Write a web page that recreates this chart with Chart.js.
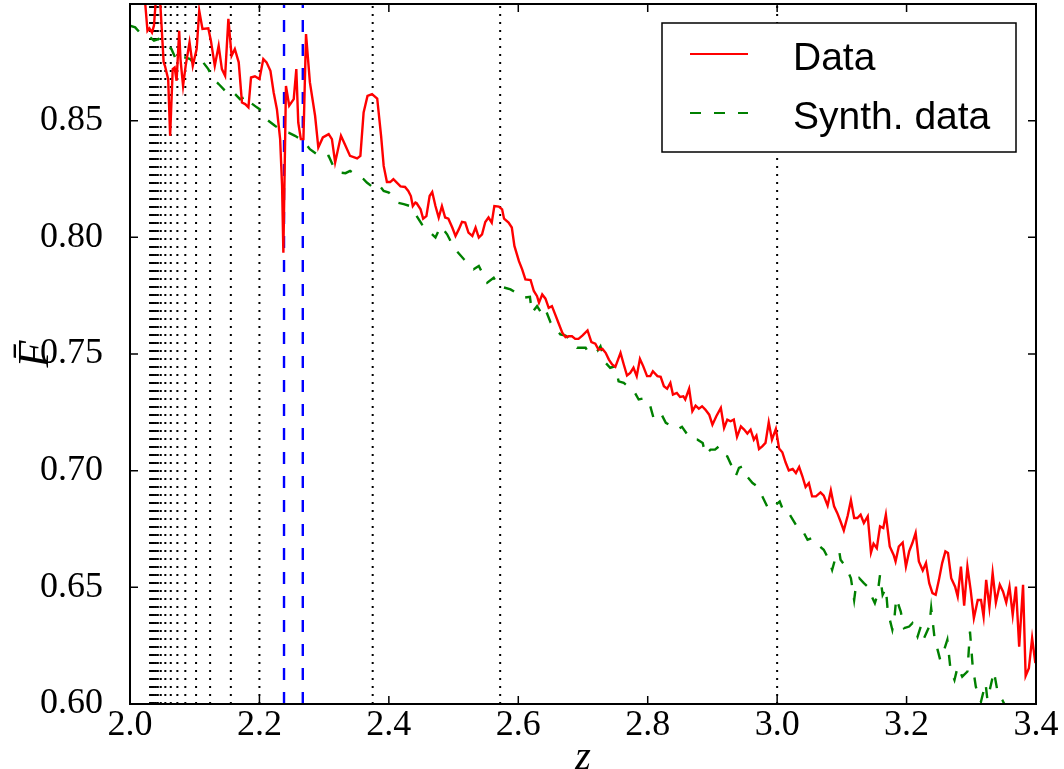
<!DOCTYPE html>
<html>
<head>
<meta charset="utf-8">
<script src="https://cdn.jsdelivr.net/npm/chart.js@4.4.0/dist/chart.umd.min.js"></script>
<style>
  html, body { margin: 0; padding: 0; background: #fff; }
</style>
</head>
<body>
<canvas id="fluxChart" width="1064" height="769"></canvas>
<script>
// Mean flux vs redshift (measured)
const zData = [2.020, 2.023, 2.027, 2.030, 2.034, 2.037, 2.040, 2.045, 2.047, 2.052, 2.054, 2.059, 2.062, 2.066, 2.069, 2.072, 2.076, 2.078, 2.082, 2.086,
  2.092, 2.097, 2.103, 2.107, 2.112, 2.121, 2.125, 2.131, 2.137, 2.142, 2.147, 2.152, 2.157, 2.162, 2.168, 2.173, 2.178, 2.183, 2.187, 2.193,
  2.200, 2.206, 2.211, 2.217, 2.222, 2.227, 2.232, 2.235, 2.237, 2.241, 2.246, 2.253, 2.257, 2.260, 2.264, 2.268, 2.272, 2.278, 2.286, 2.291,
  2.298, 2.307, 2.312, 2.317, 2.326, 2.333, 2.340, 2.351, 2.356, 2.361, 2.367, 2.374, 2.382, 2.388, 2.392, 2.397, 2.402, 2.407, 2.418, 2.425,
  2.430, 2.434, 2.437, 2.441, 2.443, 2.449, 2.453, 2.458, 2.463, 2.467, 2.472, 2.477, 2.482, 2.487, 2.492, 2.498, 2.503, 2.508, 2.513, 2.518,
  2.523, 2.529, 2.534, 2.539, 2.544, 2.549, 2.554, 2.559, 2.563, 2.570, 2.575, 2.578, 2.585, 2.590, 2.594, 2.601, 2.606, 2.611, 2.619, 2.624,
  2.629, 2.632, 2.637, 2.642, 2.647, 2.652, 2.657, 2.662, 2.668, 2.673, 2.678, 2.683, 2.688, 2.693, 2.699, 2.707, 2.713, 2.719, 2.724, 2.730,
  2.735, 2.740, 2.745, 2.750, 2.758, 2.763, 2.768, 2.773, 2.778, 2.783, 2.788, 2.793, 2.799, 2.804, 2.808, 2.815, 2.820, 2.825, 2.830, 2.835,
  2.839, 2.845, 2.850, 2.855, 2.858, 2.864, 2.869, 2.874, 2.879, 2.884, 2.889, 2.895, 2.900, 2.906, 2.913, 2.918, 2.923, 2.928, 2.933, 2.938,
  2.944, 2.949, 2.954, 2.959, 2.964, 2.968, 2.972, 2.977, 2.982, 2.987, 2.992, 2.998, 3.003, 3.008, 3.013, 3.018, 3.024, 3.029, 3.034, 3.039,
  3.044, 3.049, 3.054, 3.060, 3.067, 3.072, 3.078, 3.083, 3.088, 3.093, 3.098, 3.103, 3.109, 3.114, 3.119, 3.124, 3.129, 3.134, 3.140, 3.145,
  3.149, 3.154, 3.159, 3.164, 3.168, 3.174, 3.180, 3.183, 3.188, 3.194, 3.199, 3.204, 3.209, 3.214, 3.219, 3.225, 3.230, 3.235, 3.240, 3.245,
  3.250, 3.255, 3.260, 3.264, 3.269, 3.275, 3.279, 3.284, 3.289, 3.294, 3.299, 3.304, 3.310, 3.315, 3.319, 3.323, 3.328, 3.333, 3.338, 3.344,
  3.349, 3.354, 3.359, 3.364, 3.369, 3.374, 3.380, 3.384, 3.389, 3.394, 3.399];
const fData = [0.910, 0.902, 0.8885, 0.8896, 0.8878, 0.8907, 0.902, 0.904, 0.8993, 0.8750, 0.8735, 0.8678, 0.8435, 0.8721, 0.8728, 0.8671, 0.8885, 0.8764, 0.8649, 0.8735,
  0.8836, 0.8735, 0.8807, 0.8971, 0.8893, 0.8896, 0.8843, 0.8735, 0.8821, 0.8721, 0.8692, 0.8936, 0.8778, 0.8807, 0.8750, 0.8578, 0.8571, 0.8557, 0.8685, 0.8690,
  0.8678, 0.8764, 0.8750, 0.8714, 0.8621, 0.8549, 0.8421, 0.8220, 0.7934, 0.8649, 0.8564, 0.8592, 0.8721, 0.8492, 0.8421, 0.8421, 0.8871, 0.8664, 0.8521, 0.8385,
  0.8428, 0.8442, 0.8421, 0.8321, 0.8435, 0.8392, 0.8349, 0.8338, 0.8349, 0.8535, 0.8606, 0.8614, 0.8595, 0.8435, 0.8306, 0.8237, 0.8237, 0.8249, 0.8218, 0.8216,
  0.8199, 0.8177, 0.8134, 0.8149, 0.8146, 0.8120, 0.8080, 0.8091, 0.8177, 0.8194, 0.8134, 0.8085, 0.8134, 0.8085, 0.8080, 0.8042, 0.8006, 0.8034, 0.8066, 0.8063,
  0.8020, 0.8006, 0.8042, 0.7999, 0.8013, 0.8066, 0.8085, 0.8063, 0.8134, 0.8132, 0.8120, 0.8080, 0.8063, 0.8042, 0.7963, 0.7898, 0.7863, 0.7820, 0.7817, 0.7770,
  0.7748, 0.7720, 0.7755, 0.7737, 0.7698, 0.7705, 0.7670, 0.7634, 0.7591, 0.7572, 0.7576, 0.7576, 0.7565, 0.7565, 0.7579, 0.7601, 0.7551, 0.7544, 0.7519, 0.7522,
  0.7505, 0.7476, 0.7455, 0.7445, 0.7505, 0.7455, 0.7408, 0.7419, 0.7441, 0.7405, 0.7479, 0.7448, 0.7405, 0.7405, 0.7426, 0.7405, 0.7402, 0.7362, 0.7351, 0.7376,
  0.7326, 0.7333, 0.7316, 0.7319, 0.7305, 0.7351, 0.7255, 0.7279, 0.7266, 0.7276, 0.7262, 0.7240, 0.7197, 0.7233, 0.7269, 0.7183, 0.7219, 0.7212, 0.7219, 0.7145,
  0.7190, 0.7176, 0.7159, 0.7176, 0.7133, 0.7150, 0.7093, 0.7104, 0.7119, 0.7207, 0.7133, 0.7179, 0.7095, 0.7079, 0.7036, 0.7001, 0.7007, 0.6990, 0.7016, 0.6976,
  0.6930, 0.6947, 0.6890, 0.6890, 0.6907, 0.6893, 0.6850, 0.6915, 0.6847, 0.6818, 0.6782, 0.6744, 0.6807, 0.6873, 0.6797, 0.6797, 0.6811, 0.6776, 0.6804, 0.6649,
  0.6687, 0.6668, 0.6761, 0.6754, 0.6811, 0.6675, 0.6639, 0.6611, 0.6675, 0.6692, 0.6589, 0.6654, 0.6690, 0.6733, 0.6611, 0.6572, 0.6604, 0.6518, 0.6475, 0.6468,
  0.6532, 0.6604, 0.6654, 0.6647, 0.6539, 0.6503, 0.6461, 0.6589, 0.6421, 0.6589, 0.6489, 0.6368, 0.6446, 0.6446, 0.6375, 0.6532, 0.6415, 0.6561, 0.6435, 0.6511,
  0.6482, 0.6435, 0.6503, 0.6382, 0.6503, 0.6246, 0.6511, 0.6120, 0.6153, 0.6282, 0.6175];

// Synthetic data
const zSynth = [2.000, 2.008, 2.015, 2.023, 2.031, 2.037, 2.044, 2.052, 2.059, 2.064, 2.072, 2.077, 2.085, 2.093, 2.101, 2.113, 2.121, 2.129, 2.137, 2.147,
  2.155, 2.170, 2.181, 2.186, 2.196, 2.204, 2.211, 2.224, 2.235, 2.245, 2.255, 2.268, 2.278, 2.289, 2.296, 2.307, 2.314, 2.322, 2.333, 2.340,
  2.351, 2.361, 2.366, 2.376, 2.384, 2.392, 2.400, 2.413, 2.423, 2.433, 2.443, 2.451, 2.464, 2.472, 2.480, 2.490, 2.498, 2.505, 2.516, 2.531,
  2.539, 2.547, 2.552, 2.562, 2.570, 2.588, 2.596, 2.608, 2.618, 2.621, 2.629, 2.637, 2.642, 2.650, 2.657, 2.665, 2.673, 2.683, 2.691, 2.704,
  2.709, 2.722, 2.727, 2.735, 2.742, 2.750, 2.755, 2.763, 2.779, 2.786, 2.797, 2.804, 2.809, 2.820, 2.828, 2.846, 2.853, 2.866, 2.877, 2.885,
  2.889, 2.897, 2.904, 2.910, 2.917, 2.923, 2.931, 2.936, 2.941, 2.946, 2.951, 2.962, 2.969, 2.977, 2.987, 2.995, 3.004, 3.011, 3.018, 3.029,
  3.036, 3.047, 3.054, 3.060, 3.072, 3.080, 3.085, 3.090, 3.096, 3.098, 3.106, 3.114, 3.119, 3.121, 3.127, 3.134, 3.140, 3.145, 3.151, 3.155,
  3.159, 3.163, 3.168, 3.171, 3.178, 3.181, 3.184, 3.191, 3.196, 3.204, 3.209, 3.217, 3.222, 3.227, 3.235, 3.238, 3.243, 3.248, 3.252, 3.258,
  3.263, 3.268, 3.274, 3.279, 3.286, 3.294, 3.298, 3.302, 3.307, 3.315, 3.322, 3.325, 3.335, 3.341, 3.348, 3.353, 3.361];
const fSynth = [0.8907, 0.8900, 0.8878, 0.8867, 0.8857, 0.8843, 0.8850, 0.8828, 0.8821, 0.8807, 0.8757, 0.8771, 0.8771, 0.8764, 0.8735, 0.8750, 0.8721, 0.8678, 0.8657, 0.8628,
  0.8635, 0.8592, 0.8606, 0.8578, 0.8557, 0.8542, 0.8506, 0.8478, 0.8456, 0.8449, 0.8435, 0.8413, 0.8378, 0.8356, 0.8342, 0.8349, 0.8306, 0.8278, 0.8275, 0.8285,
  0.8263, 0.8249, 0.8235, 0.8213, 0.8227, 0.8199, 0.8192, 0.8149, 0.8142, 0.8134, 0.8091, 0.8056, 0.8020, 0.7999, 0.8048, 0.8013, 0.7970, 0.7941, 0.7906, 0.7863,
  0.7877, 0.7834, 0.7806, 0.7827, 0.7791, 0.7777, 0.7763, 0.7741, 0.7745, 0.7677, 0.7705, 0.7670, 0.7691, 0.7634, 0.7612, 0.7584, 0.7579, 0.7555, 0.7527, 0.7527,
  0.7502, 0.7512, 0.7533, 0.7462, 0.7441, 0.7448, 0.7383, 0.7376, 0.7340, 0.7305, 0.7312, 0.7276, 0.7226, 0.7248, 0.7205, 0.7176, 0.7188, 0.7136, 0.7133, 0.7119,
  0.7069, 0.7090, 0.7090, 0.7104, 0.7069, 0.7061, 0.7012, 0.6976, 0.7012, 0.7018, 0.6983, 0.6947, 0.6933, 0.6890, 0.6833, 0.6847, 0.6868, 0.6818, 0.6818, 0.6768,
  0.6761, 0.6704, 0.6711, 0.6690, 0.6661, 0.6618, 0.6575, 0.6625, 0.6654, 0.6618, 0.6589, 0.6539, 0.6446, 0.6489, 0.6539, 0.6518, 0.6503, 0.6468, 0.6432, 0.6468,
  0.6554, 0.6468, 0.6497, 0.6396, 0.6318, 0.6361, 0.6454, 0.6396, 0.6325, 0.6332, 0.6346, 0.6289, 0.6332, 0.6282, 0.6332, 0.6411, 0.6289, 0.6232, 0.6189, 0.6232,
  0.6275, 0.6146, 0.6103, 0.6160, 0.6117, 0.6139, 0.6310, 0.6167, 0.6074, 0.6010, 0.6089, 0.6017, 0.6139, 0.6046, 0.6017, 0.5989, 0.5930];

// vertical reference lines
const zDotted = [2.031, 2.034, 2.037, 2.040, 2.043, 2.0475, 2.0546, 2.063, 2.0732, 2.0855, 2.1021, 2.1238, 2.1558, 2.2, 2.375, 2.572, 3.0];
const zDashed = [2.238, 2.267];

// axes
const zTicks = [2.0, 2.2, 2.4, 2.6, 2.8, 3.0, 3.2, 3.4];
const fTicks = [0.60, 0.65, 0.70, 0.75, 0.80, 0.85, 0.90];
const fTickLabels = ['0.60', '0.65', '0.70', '0.75', '0.80', '0.85', ''];

const fMin = 0.60, fMax = 0.90;

function toPoints(xs, ys) {
    return xs.map((v, i) => ({ x: v, y: ys[i] }));
}

const datasets = [
    {
        label: 'Data',
        data: toPoints(zData, fData),
        borderColor: '#ff0000',
        borderWidth: 2.4,
        showLine: true,
        pointRadius: 0,
        clip: 0,
    },
    {
        label: 'Synth. data',
        data: toPoints(zSynth, fSynth),
        borderColor: '#008000',
        borderWidth: 2.4,
        borderDash: [11, 13],
        showLine: true,
        pointRadius: 0,
        clip: 0,
    }
];

zDashed.forEach(z => {
    datasets.push({
        data: [{ x: z, y: fMin }, { x: z, y: fMax }],
        borderColor: '#0000ff',
        borderWidth: 2.4,
        borderDash: [12, 12],
        showLine: true,
        pointRadius: 0,
        clip: 0,
    });
});

zDotted.forEach(z => {
    datasets.push({
        data: [{ x: z, y: fMin }, { x: z, y: fMax }],
        borderColor: '#000000',
        borderWidth: 2,
        borderDash: [2, 6],
        showLine: true,
        pointRadius: 0,
        clip: 0,
    });
});

// inward ticks + frame like matplotlib
const frameTicks = {
    id: 'frameTicks',
    afterDraw(chart) {
        const { ctx, chartArea: a, scales: { x, y } } = chart;
        ctx.save();
        ctx.strokeStyle = '#000';
        ctx.lineWidth = 1.5;
        ctx.beginPath();
        zTicks.forEach(v => {
            const px = x.getPixelForValue(v);
            ctx.moveTo(px, a.bottom); ctx.lineTo(px, a.bottom - 8);
            ctx.moveTo(px, a.top); ctx.lineTo(px, a.top + 8);
        });
        fTicks.forEach(v => {
            const py = y.getPixelForValue(v);
            ctx.moveTo(a.left, py); ctx.lineTo(a.left + 8, py);
            ctx.moveTo(a.right, py); ctx.lineTo(a.right - 8, py);
        });
        ctx.stroke();
        ctx.lineWidth = 2;
        ctx.strokeRect(a.left, a.top, a.right - a.left, a.bottom - a.top);
        ctx.restore();
    }
};

// legend box in upper right
const legendBox = {
    id: 'legendBox',
    afterDraw(chart) {
        const { ctx, chartArea: a } = chart;
        const bx = a.right - 374, by = a.top + 19, bw = 354, bh = 129;
        ctx.save();
        ctx.fillStyle = '#fff';
        ctx.fillRect(bx, by, bw, bh);
        ctx.strokeStyle = '#000';
        ctx.lineWidth = 1.5;
        ctx.strokeRect(bx, by, bw, bh);
        ctx.font = '39px "Liberation Sans", Arial, sans-serif';
        ctx.textBaseline = 'alphabetic';
        ctx.fillStyle = '#000';
        [0, 1].forEach(i => {
            const ds = chart.data.datasets[i];
            const ly = by + 31 + i * 59;
            ctx.beginPath();
            ctx.strokeStyle = ds.borderColor;
            ctx.lineWidth = 2;
            ctx.setLineDash(ds.borderDash || []);
            ctx.moveTo(bx + 28, ly);
            ctx.lineTo(bx + 86, ly);
            ctx.stroke();
            ctx.setLineDash([]);
            ctx.fillText(ds.label, bx + 131, ly + 16);
        });
        ctx.restore();
    }
};

const ctx = document.getElementById('fluxChart').getContext('2d');

new Chart(ctx, {
    type: 'scatter',
    data: { datasets: datasets },
    plugins: [frameTicks, legendBox],
    options: {
        responsive: false,
        animation: false,
        layout: { padding: { left: 0, right: 28, top: 4, bottom: 0 } },
        plugins: {
            legend: { display: false },
            tooltip: { enabled: false }
        },
        scales: {
            x: {
                type: 'linear',
                min: 2.0,
                max: 3.4,
                grid: { display: false },
                border: { display: false },
                afterBuildTicks: (scale) => { scale.ticks = zTicks.map(v => ({ value: v })); },
                afterFit: (scale) => {
                    scale.height = 65;
                    scale.paddingLeft = 0;
                    scale.paddingRight = 0;
                },
                ticks: {
                    color: '#000',
                    padding: -8,
                    maxRotation: 0,
                    autoSkip: false,
                    font: { family: '"Liberation Serif", serif', size: 36 },
                    callback: (v) => Number(v).toFixed(1)
                },
                title: {
                    display: true,
                    text: 'z',
                    color: '#000',
                    padding: { top: 0, bottom: -3 },
                    font: { family: '"Liberation Serif", serif', size: 40, style: 'italic', lineHeight: 0.7 }
                }
            },
            y: {
                type: 'linear',
                min: fMin,
                max: fMax,
                grid: { display: false },
                border: { display: false },
                afterBuildTicks: (scale) => { scale.ticks = fTicks.map(v => ({ value: v })); },
                afterFit: (scale) => {
                    scale.width = 130;
                    scale.paddingTop = 0;
                    scale.paddingBottom = 0;
                },
                ticks: {
                    color: '#000',
                    padding: 19,
                    autoSkip: false,
                    font: { family: '"Liberation Serif", serif', size: 36 },
                    callback: (v, i) => fTickLabels[i]
                },
                title: {
                    display: true,
                    text: 'F\u0304',
                    color: '#000',
                    padding: { top: 14, bottom: 0 },
                    font: { family: '"Liberation Serif", serif', size: 44, style: 'italic', lineHeight: 1 }
                }
            }
        }
    }
});
</script>
</body>
</html>
